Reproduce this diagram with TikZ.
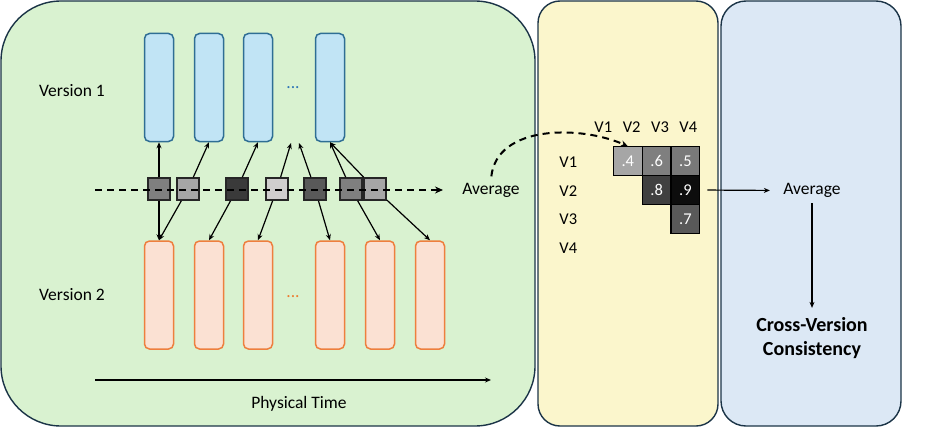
\documentclass[tikz,border=0pt]{standalone}
\usepackage{fontspec}
\setmainfont{Carlito}
\usetikzlibrary{arrows.meta,calc}
\definecolor{panelborder}{HTML}{1B3447}
\definecolor{greenfill}{HTML}{D9F2D0}
\definecolor{yellowfill}{HTML}{FBF6CC}
\definecolor{bluepanel}{HTML}{DCE8F5}
\definecolor{blueborder}{HTML}{2F6E94}
\definecolor{bluefill}{HTML}{C1E4F5}
\definecolor{orangeborder}{HTML}{EE7F3E}
\definecolor{orangefill}{HTML}{FBE1D3}
\definecolor{bluedot}{HTML}{2E75B6}
\definecolor{orangedot}{HTML}{ED7D31}
\definecolor{gA}{HTML}{7F7F7F}
\definecolor{gB}{HTML}{A6A6A6}
\definecolor{gC}{HTML}{3A3A3A}
\definecolor{gD}{HTML}{D0CECE}
\definecolor{gE}{HTML}{595959}
\definecolor{gF}{HTML}{404040}
\definecolor{gG}{HTML}{0D0D0D}
\begin{document}
\begin{tikzpicture}[x=1pt,y=-1pt,
  font=\fontsize{17.5}{21}\selectfont,
  panel/.style={draw=panelborder, line width=1.4pt},
  vbox/.style={draw=blueborder, fill=bluefill, line width=1.5pt, rounded corners=5pt,
    minimum width=29pt, minimum height=108pt, inner sep=0pt},
  obox/.style={draw=orangeborder, fill=orangefill, line width=1.5pt, rounded corners=5pt,
    minimum width=29pt, minimum height=108pt, inner sep=0pt},
  sqbox/.style={draw=black!85, line width=1.6pt, minimum size=22pt, inner sep=0pt},
  cellbox/.style={draw=black, line width=1.2pt, minimum size=28.8pt, inner sep=0pt,
    text=white, font=\fontsize{16.5}{20}\selectfont},
  lbl/.style={font=\fontsize{16.5}{20}\selectfont},
  arr/.style={-{Stealth[length=6pt,width=5pt]}, line width=1.2pt},
  dasharr/.style={-{Stealth[length=8pt,width=7pt]}, line width=2pt, dash pattern=on 7pt off 5pt},
]
\useasboundingbox (0,0) rectangle (925,428);
% panels
\draw[panel, fill=greenfill, rounded corners=60pt] (1,1) rectangle (535,426);
\draw[panel, fill=yellowfill, rounded corners=22pt] (538,1) rectangle (718,426);
\draw[panel, fill=bluepanel, rounded corners=25pt] (721,1) rectangle (901,426);

% version labels
\node (ver1) at (72,91) {Version 1};
\node (ver2) at (72,295) {Version 2};

% version 1 boxes
\node[vbox] (b1) at (159,87.5) {};
\node[vbox] (b2) at (209,87.5) {};
\node[vbox] (b3) at (258,87.5) {};
\node[vbox] (b4) at (330,87.5) {};
\node[text=bluedot, inner sep=0pt] (bdots) at (293,88) {...};

% version 2 boxes
\node[obox] (o1) at (159,295) {};
\node[obox] (o2) at (209,295) {};
\node[obox] (o3) at (258,295) {};
\node[obox] (o4) at (330,295) {};
\node[obox] (o5) at (380,295) {};
\node[obox] (o6) at (430,295) {};
\node[text=orangedot, inner sep=0pt] (odots) at (293,297) {...};

% similarity squares
\node[sqbox, fill=gA] (s1) at (159,189) {};
\node[sqbox, fill=gB] (s2) at (188,189) {};
\node[sqbox, fill=gC] (s3) at (237,189) {};
\node[sqbox, fill=gD] (s4) at (277,189) {};
\node[sqbox, fill=gE] (s5) at (315,189) {};
\node[sqbox, fill=gA] (s6) at (351,189) {};
\node[sqbox, fill=gB] (s7) at (375,189) {};

\coordinate (u4) at (291,143);
\coordinate (u5) at (299,143);

\draw[arr] (s1) -- (b1.south);
\draw[arr] (s1) -- (o1.north);
\draw[arr] (s2) -- (b2.south);
\draw[arr] (s2) -- (o1.north);
\draw[arr] (s3) -- (b3.south);
\draw[arr] (s3) -- (o2.north);
\draw[arr] (s4) -- (u4);
\draw[arr] (s4) -- (o3.north);
\draw[arr] (s5) -- (u5);
\draw[arr] (s5) -- (o4.north);
\draw[arr] (s6) -- (b4.south);
\draw[arr] (s6) -- (o5.north);
\draw[arr] (s7) -- (b4.south);
\draw[arr] (s7) -- (o6.north);

% dashed time line
\coordinate (dl) at (95,190);
\coordinate (dr) at (443,190);
\draw[dasharr] (dl) -- (dr);
\node (avgL) at (491,190) {Average};

% physical time
\coordinate (pt1) at (95,380);
\coordinate (pt2) at (491,380);
\draw[arr] (pt1) -- (pt2);
\node (ptime) at (299,404) {Physical Time};

% matrix
\node[cellbox, fill=gB] (c11) at (627.8,161.2) {.4};
\node[cellbox, fill=gA] (c12) at (656.6,161.2) {.6};
\node[cellbox, fill=gA!95!black] (c13) at (685.4,161.2) {.5};
\node[cellbox, fill=gF] (c22) at (656.6,190) {.8};
\node[cellbox, fill=gG] (c23) at (685.4,190) {.9};
\node[cellbox, fill=gE] (c33) at (685.4,218.8) {.7};

\node[lbl] (cv1) at (603.3,127.3) {V1};
\node[lbl] (cv2) at (631.7,127.3) {V2};
\node[lbl] (cv3) at (660,127.3) {V3};
\node[lbl] (cv4) at (688.3,127.3) {V4};
\node[lbl] (rv1) at (568.3,162.3) {V1};
\node[lbl] (rv2) at (568.3,190.7) {V2};
\node[lbl] (rv3) at (568.3,219) {V3};
\node[lbl] (rv4) at (568.3,248.3) {V4};

% dashed curve into the matrix
\draw[-{Stealth[length=7pt,width=6pt]}, line width=2pt, dash pattern=on 7pt off 5pt, shorten <=3pt]
  (avgL.north) .. controls (497,125) and (580,125) .. (c11.north);

% right panel
\node (avgR) at (812,190.5) {Average};
\draw[arr, shorten <=7pt, shorten >=10pt] (c23.east) -- (avgR.west);
\node[font=\bfseries\fontsize{20}{24}\selectfont, align=center] (cvc) at (812,338) {Cross-Version\\Consistency};
\draw[arr, shorten <=2pt, shorten >=6pt] (avgR.south) -- (cvc.north);
\end{tikzpicture}
\end{document}
